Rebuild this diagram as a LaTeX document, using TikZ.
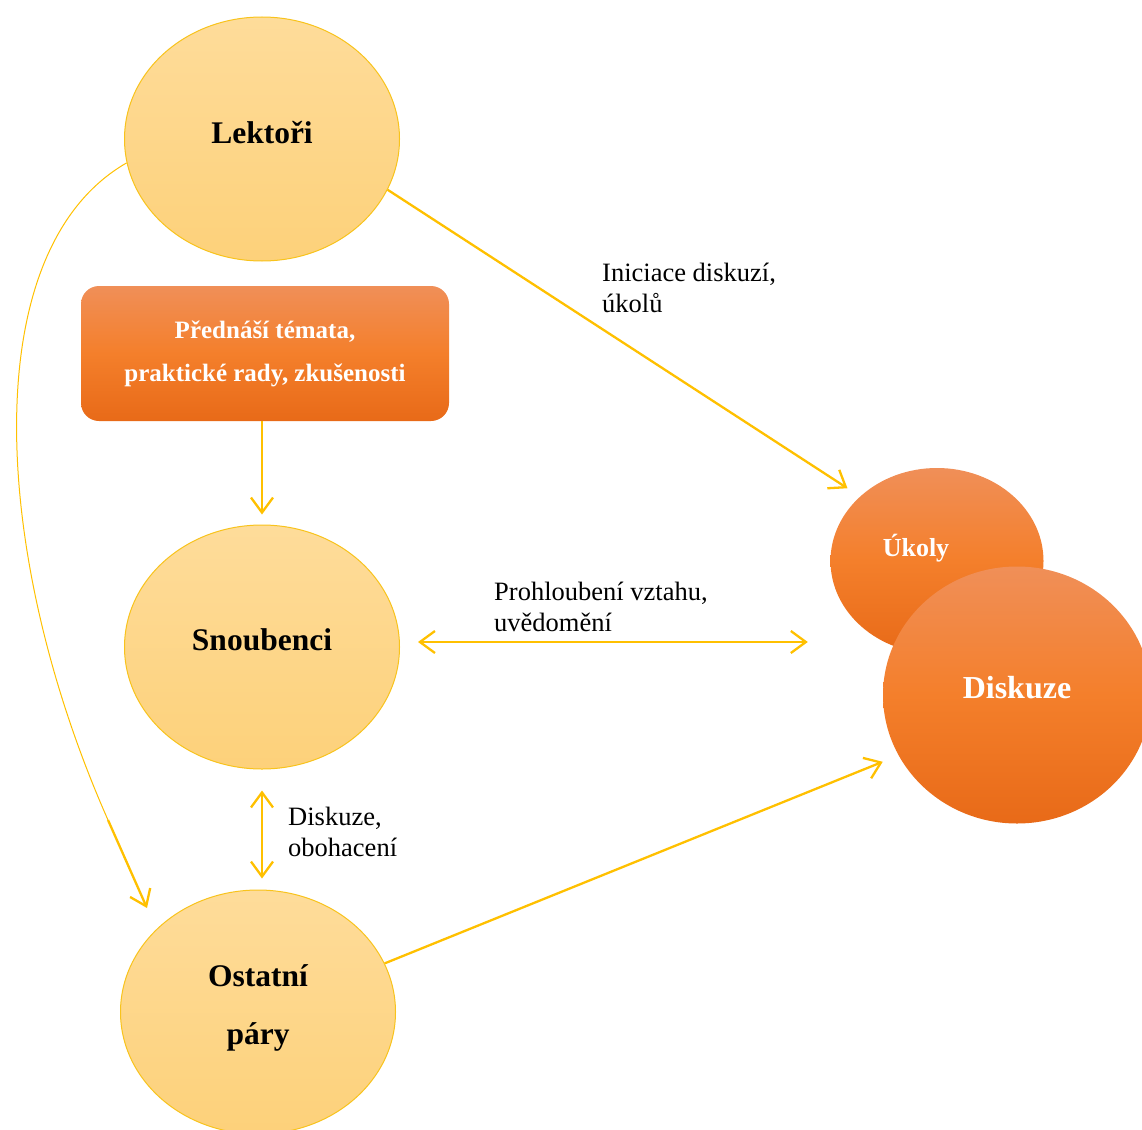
\documentclass[tikz,border=0pt]{standalone}
\usepackage{fontspec}
\setmainfont{Liberation Serif}
\usepackage{tikz}
\usetikzlibrary{shapes.geometric,arrows.meta,calc}

\definecolor{lineGold}{HTML}{FFC000}
\definecolor{ovalTop}{HTML}{FEDC9A}
\definecolor{ovalBot}{HTML}{FDD17A}
\definecolor{ovalEdge}{HTML}{F8C31C}
\definecolor{boxTop}{HTML}{F08F58}
\definecolor{boxMid}{HTML}{F47F2B}
\definecolor{boxBot}{HTML}{E86A18}

\begin{document}
\begin{tikzpicture}[x=1pt, y=-1pt,
    oval/.style={ellipse, draw=ovalEdge, line width=1pt, top color=ovalTop,
      bottom color=ovalBot, inner sep=0pt, minimum width=275pt, minimum height=244pt,
      align=center, text depth=14pt, font=\fontsize{31.5}{58}\selectfont\bfseries},
    blob/.style={ellipse, top color=boxTop, bottom color=boxBot, middle color=boxMid,
      inner sep=0pt, text=white},
    talk/.style={align=left, anchor=west, inner sep=0pt, font=\fontsize{26.5}{31}\selectfont},
    arr/.style={draw=lineGold, line width=2.3pt, -{Straight Barb[length=15pt, width=22pt]}},
    dblarr/.style={draw=lineGold, line width=2.3pt,
      {Straight Barb[length=15pt, width=22pt]}-{Straight Barb[length=15pt, width=22pt]}}]
    \useasboundingbox (0, 0) rectangle (1142, 1129);

    \node[oval] (lektori) at (262, 139) {Lektoři};
    \node[oval] (snoubenci) at (262, 647) {Snoubenci};
    \node[oval] (ostatni) at (258, 1012) {Ostatní\\páry};
    \node[rectangle, rounded corners=18pt, top color=boxTop, bottom color=boxBot,
      middle color=boxMid, minimum width=368pt, minimum height=135pt, inner sep=0pt,
      text=white, align=center, font=\fontsize{25}{43}\selectfont\bfseries]
      (temata) at (265, 353.5) {Přednáší témata,\\praktické rady, zkušenosti};

    \node[blob, minimum width=213pt, minimum height=186pt,
      label={[text=white, font=\fontsize{26}{30}\selectfont\bfseries,
      xshift=-21pt, yshift=13pt]center:Úkoly}] (ukoly) at (937, 561) {};
    \node[blob, minimum width=268pt, minimum height=257pt, text depth=16pt,
      font=\fontsize{32}{38}\selectfont\bfseries] (diskuze) at (1017, 695) {Diskuze};

    \coordinate (oklik) at (108, 820);
    \coordinate (oklikend) at (147, 908);

    \draw[arr, shorten >=15pt] (lektori.-22) -- (ukoly.140);
    \draw[arr, shorten >=10pt] (temata.south -| snoubenci.north) -- (snoubenci.north);
    \draw[dblarr, shorten <=18pt, shorten >=75pt]
      ([yshift=5pt]snoubenci.east) -- ([yshift=5pt]snoubenci.east -| diskuze.west);
    \draw[dblarr, shorten <=21pt, shorten >=11pt]
      (snoubenci.south) -- (snoubenci.south |- ostatni.north);
    \draw[arr, shorten >=17pt] (ostatni.21.6) -- (diskuze.207);
    \draw[draw=lineGold, line width=1pt]
      (lektori.190) .. controls (-25, 250) and (-9, 556) .. (oklik);
    \draw[arr] (oklik) -- (oklikend);

    \node[talk] (iniciace) at (602, 288) {Iniciace diskuzí,\\úkolů};
    \node[talk] (prohloubeni) at (494, 607) {Prohloubení vztahu,\\uvědomění};
    \node[talk] (obohaceni) at (288, 832) {Diskuze,\\obohacení};
  \end{tikzpicture}
\end{document}
